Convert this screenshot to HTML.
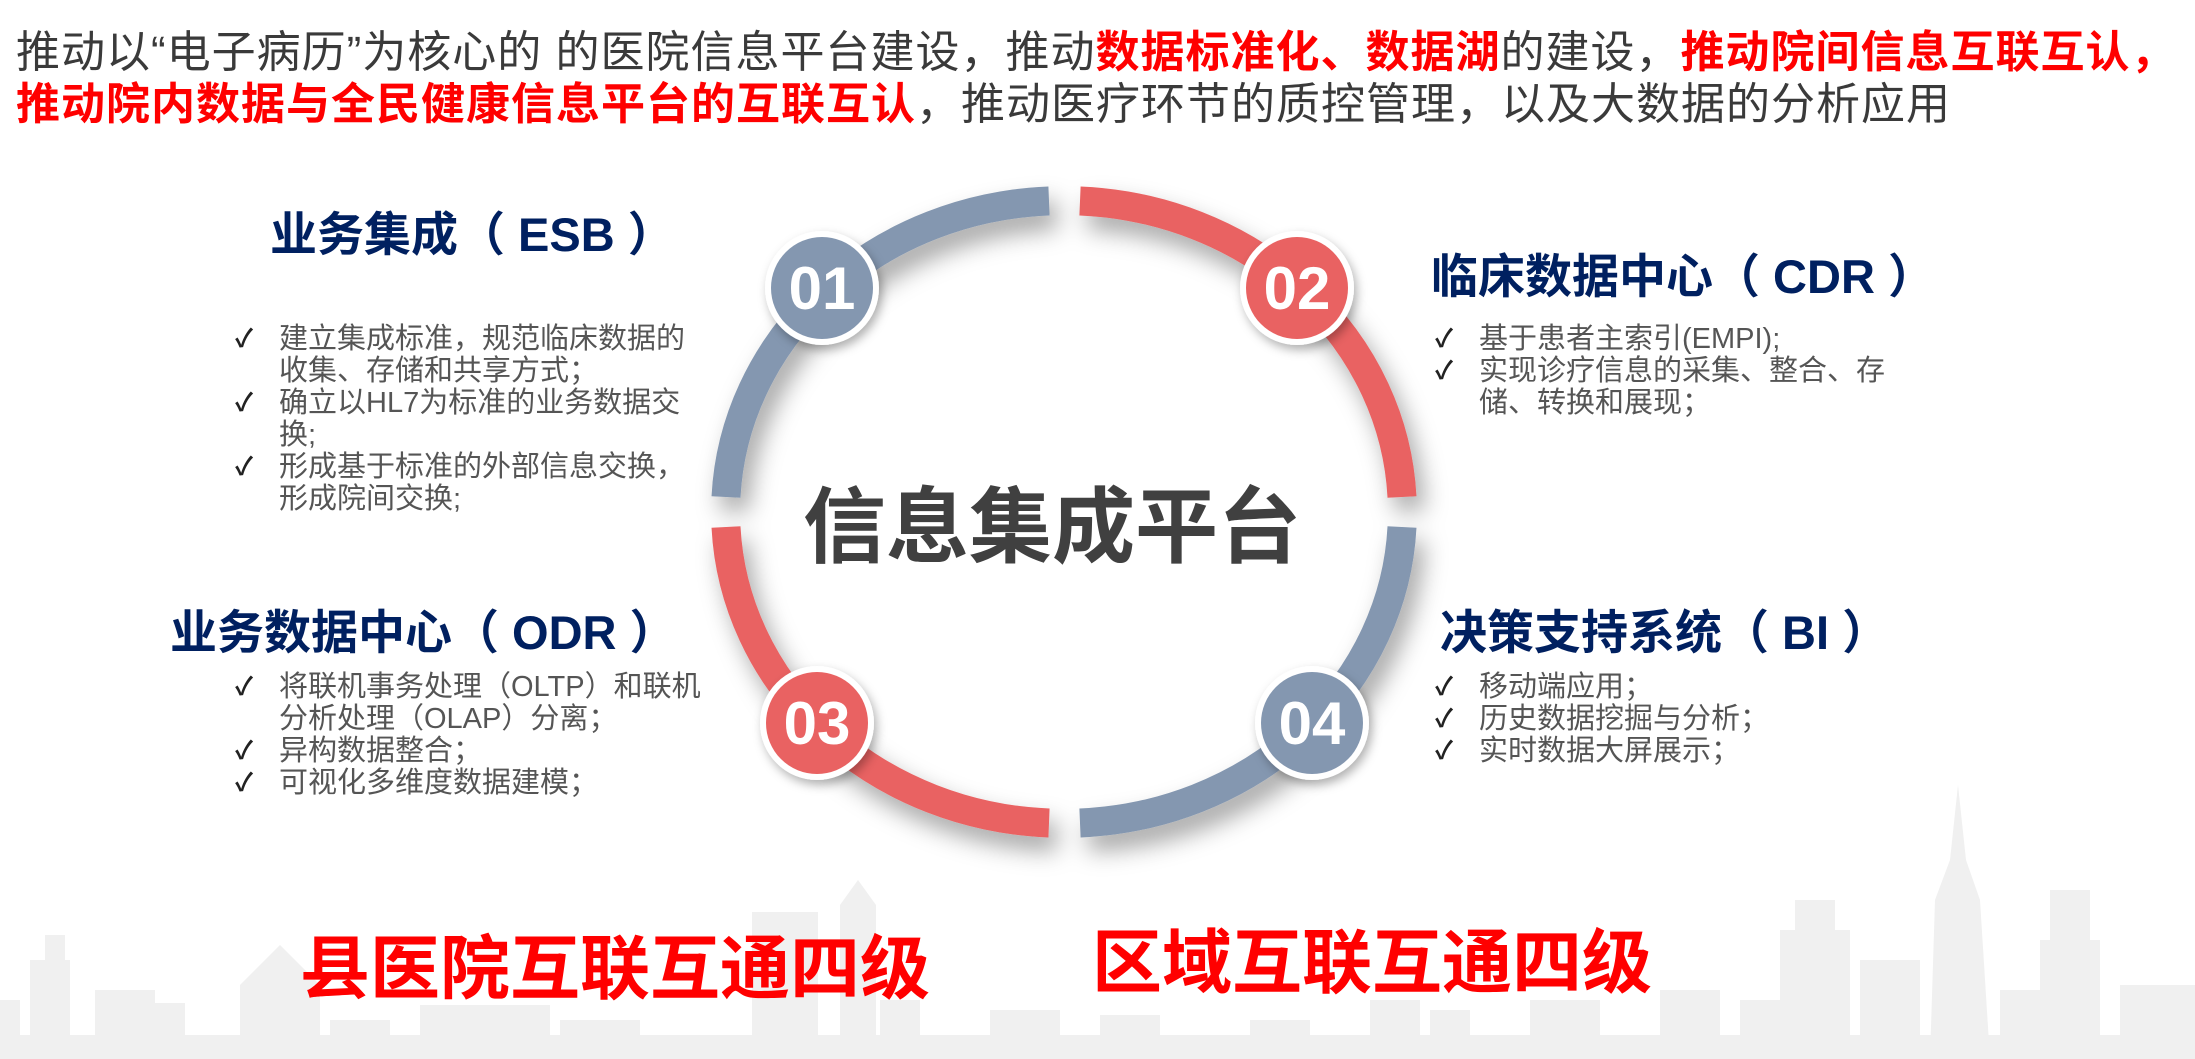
<!DOCTYPE html>
<html><head><meta charset="utf-8">
<style>
html,body{margin:0;padding:0;}
body{width:2195px;height:1059px;position:relative;overflow:hidden;background:#fff;font-family:"Liberation Sans","Noto Sans CJK SC",sans-serif;}
.abs{position:absolute;white-space:nowrap;}
.hdr{left:16px;font-size:44px;letter-spacing:1px;color:#3a3a3a;line-height:52px;}
.r{color:#ff0000;font-weight:bold;}
.h{font-size:47px;font-weight:bold;color:#002060;line-height:56px;}
.list{font-size:29px;color:#555;line-height:32px;}
.list div{position:relative;padding-left:44px;}
.list div.c::before{content:"✓";position:absolute;left:0;color:#222;font-size:25px;font-weight:bold;}
.big{font-size:70px;font-weight:bold;color:#ff0000;line-height:80px;}
</style></head><body>
<svg class="abs" style="left:0;top:0" width="2195" height="1059">
  <defs>
    <filter id="sh" x="-20%" y="-20%" width="140%" height="150%">
      <feDropShadow dx="8" dy="14" stdDeviation="12" flood-color="#000" flood-opacity="0.35"/>
    </filter>
    <filter id="sh2" x="-30%" y="-30%" width="160%" height="160%">
      <feDropShadow dx="3" dy="5" stdDeviation="5" flood-color="#000" flood-opacity="0.3"/>
    </filter>
  </defs>
  <g fill="#f0f0f0">
    <rect x="0" y="1035" width="2195" height="24"/>
    <rect x="0" y="1000" width="20" height="59"/>
    <rect x="30" y="960" width="40" height="99"/>
    <rect x="45" y="935" width="20" height="40"/>
    <rect x="95" y="990" width="60" height="69"/>
    <rect x="140" y="1003" width="45" height="56"/>
    <polygon points="240,985 280,945 320,985 320,1059 240,1059"/>
    <rect x="330" y="1020" width="60" height="39"/>
    <rect x="420" y="1005" width="130" height="54"/>
    <rect x="560" y="1020" width="80" height="39"/>
    <rect x="752" y="912" width="66" height="147"/>
    <polygon points="840,1059 840,905 858,880 876,905 876,1059"/>
    <rect x="880" y="1000" width="40" height="59"/>
    <rect x="990" y="1010" width="70" height="49"/>
    <rect x="1100" y="1015" width="60" height="44"/>
    <rect x="1250" y="1020" width="60" height="39"/>
    <rect x="1370" y="1000" width="50" height="59"/>
    <rect x="1430" y="1010" width="40" height="49"/>
    <rect x="1530" y="1000" width="70" height="59"/>
    <rect x="1660" y="990" width="60" height="69"/>
    <rect x="1740" y="1000" width="40" height="59"/>
    <rect x="1795" y="900" width="40" height="159"/>
    <rect x="1780" y="930" width="70" height="129"/>
    <rect x="1860" y="960" width="60" height="99"/>
    <polygon points="1930,1059 1935,900 1950,860 1958,785 1966,860 1980,900 1990,1059"/>
    <rect x="2000" y="990" width="40" height="69"/>
    <rect x="2050" y="890" width="40" height="169"/>
    <rect x="2040" y="940" width="60" height="119"/>
    <rect x="2120" y="985" width="75" height="74"/>
  </g>
  <g fill="none" stroke-width="29" filter="url(#sh)">
    <path d="M726 497 A338 311 0 0 1 1049 201" stroke="#8497b0"/>
    <path d="M1080 201 A338 311 0 0 1 1402 497" stroke="#e96262"/>
    <path d="M1402 527 A338 311 0 0 1 1080 823" stroke="#8497b0"/>
    <path d="M1049 823 A338 311 0 0 1 726 527" stroke="#e96262"/>
  </g>
  <g filter="url(#sh2)" font-family="Liberation Sans, sans-serif" font-weight="bold" font-size="60" fill="#fff" text-anchor="middle">
    <circle cx="822" cy="288" r="57" fill="#fff"/><circle cx="822" cy="288" r="51" fill="#8497b0"/>
    <text x="822" y="309">01</text>
    <circle cx="1297" cy="288" r="57" fill="#fff"/><circle cx="1297" cy="288" r="51" fill="#e96262"/>
    <text x="1297" y="309">02</text>
    <circle cx="817" cy="723" r="57" fill="#fff"/><circle cx="817" cy="723" r="51" fill="#e96262"/>
    <text x="817" y="744">03</text>
    <circle cx="1312" cy="723" r="57" fill="#fff"/><circle cx="1312" cy="723" r="51" fill="#8497b0"/>
    <text x="1312" y="744">04</text>
  </g>
  <text x="1052" y="556" text-anchor="middle" font-family="Liberation Sans, Noto Sans CJK SC, sans-serif" font-weight="bold" font-size="83" fill="#404040">信息集成平台</text>
</svg>

<div class="abs hdr" style="top:27px">推动以“电子病历”为核心的 的医院信息平台建设，推动<span class="r">数据标准化、数据湖</span>的建设，<span class="r">推动院间信息互联互认，</span></div>
<div class="abs hdr" style="top:79px"><span class="r">推动院内数据与全民健康信息平台的互联互认</span>，推动医疗环节的质控管理，以及大数据的分析应用</div>

<div class="abs h" style="left:270px;top:207px">业务集成（ ESB ）</div>
<div class="abs h" style="left:1431px;top:249px">临床数据中心（ CDR ）</div>
<div class="abs h" style="left:170px;top:605px">业务数据中心（ ODR ）</div>
<div class="abs h" style="left:1440px;top:605px">决策支持系统（ BI ）</div>

<div class="abs list" style="left:235px;top:323px">
  <div class="c">建立集成标准，规范临床数据的</div>
  <div>收集、存储和共享方式；</div>
  <div class="c">确立以HL7为标准的业务数据交</div>
  <div>换;</div>
  <div class="c">形成基于标准的外部信息交换，</div>
  <div>形成院间交换;</div>
</div>
<div class="abs list" style="left:1435px;top:323px">
  <div class="c">基于患者主索引(EMPI);</div>
  <div class="c">实现诊疗信息的采集、整合、存</div>
  <div>储、转换和展现；</div>
</div>
<div class="abs list" style="left:235px;top:671px">
  <div class="c">将联机事务处理（OLTP）和联机</div>
  <div>分析处理（OLAP）分离；</div>
  <div class="c">异构数据整合；</div>
  <div class="c">可视化多维度数据建模；</div>
</div>
<div class="abs list" style="left:1435px;top:671px">
  <div class="c">移动端应用；</div>
  <div class="c">历史数据挖掘与分析；</div>
  <div class="c">实时数据大屏展示；</div>
</div>

<div class="abs big" style="left:300px;top:929px">县医院互联互通四级</div>
<div class="abs big" style="left:1092px;top:923px">区域互联互通四级</div>
</body></html>
